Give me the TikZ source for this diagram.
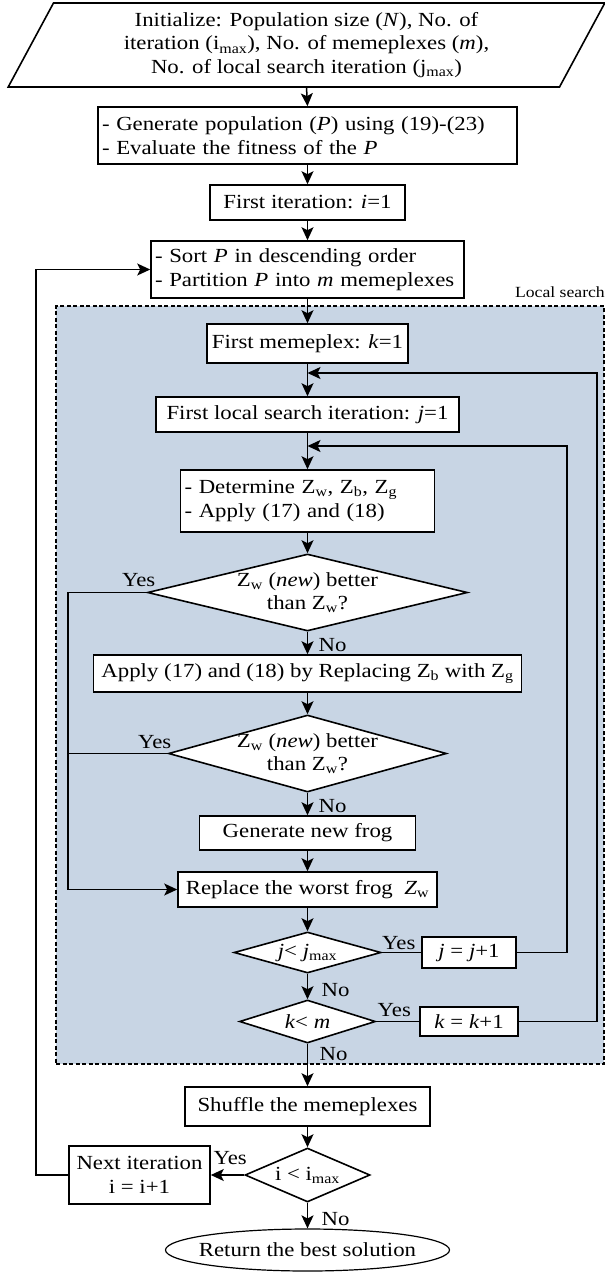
\documentclass[tikz,border=0pt]{standalone}
\usepackage{fontspec}
\setmainfont{Liberation Serif}[FakeStretch=1.14]
\usetikzlibrary{arrows.meta,shapes.geometric,calc}
\definecolor{cLocal}{HTML}{C8D5E4}

\begin{document}
\begin{tikzpicture}[
  x=1pt,y=1pt,font=\fontsize{20}{23.5}\selectfont,
  box/.style 2 args={rectangle,draw,line width=1.6pt,fill=white,align=center,
              inner sep=0pt,minimum width=#1,minimum height=#2},
  lbox/.style 2 args={rectangle,draw,line width=1.6pt,fill=white,align=left,
              inner xsep=4pt,inner ysep=0pt,text width=#1,minimum height=#2},
  dec/.style 2 args={diamond,draw,line width=1.6pt,fill=white,align=center,
              inner sep=-10pt,aspect=3,minimum width=#1,minimum height=#2},
  ar/.style={-{Stealth[length=13pt,width=12pt,inset=3pt]},line width=1.5pt},
  ln/.style={line width=1.5pt},
  yn/.style={inner sep=0pt}
]
\useasboundingbox (0,0) rectangle (605,-1272);

%======================= LOCAL SEARCH REGION =======================
\node[rectangle,draw,fill=cLocal,line width=2.5pt,dash pattern=on 4pt off 2.5pt,
      inner sep=0pt,minimum width=548pt,minimum height=758pt] (ls) at (330,-685) {};
\node[anchor=east,inner sep=0pt,font=\fontsize{15.5}{18}\selectfont] (lslbl) at (605,-292) {Local search};

%======================= INITIALISATION =======================
\node[trapezium,draw,line width=1.6pt,fill=white,trapezium left angle=63.4,
      trapezium right angle=116.6,trapezium stretches=true,minimum width=597pt,
      minimum height=84pt,inner sep=0pt,align=center] (init) at (306.5,-45)
  {Initialize: Population size (\textit{N}), No. of\\
   iteration (i\textsubscript{max}), No. of memeplexes (\textit{m}),\\
   No. of local search iteration (j\textsubscript{max})};
\node[lbox={411pt}{57pt}] (gen) at (307.5,-135.5)
  {- Generate population (\textit{P}) using (19)-(23)\\- Evaluate the fitness of the \textit{P}};
\node[box={195pt}{35pt}] (fit) at (307.5,-202.5) {First iteration: \textit{i}=1};
\node[lbox={305pt}{57pt}] (sort) at (307.5,-269.5)
  {- Sort \textit{P} in descending order\\- Partition \textit{P} into \textit{m} memeplexes};

%======================= LOCAL SEARCH =======================
\node[box={201pt}{39pt}] (mem) at (307.5,-343.5) {First memeplex: \textit{k}=1};
\node[box={303pt}{35pt}] (lsi) at (307.5,-414.5) {First local search iteration: \textit{j}=1};
\node[lbox={246pt}{62pt}] (det) at (307.5,-501)
  {- Determine Z\textsubscript{w}, Z\textsubscript{b}, Z\textsubscript{g}\\- Apply (17) and (18)};
\node[dec={320pt}{77pt}] (d1) at (307.5,-592.5)
  {Z\textsubscript{w} (\textit{new}) better\\than Z\textsubscript{w}?};
\node[box={428pt}{37pt}] (app) at (307.5,-673.5)
  {Apply (17) and (18) by Replacing Z\textsubscript{b} with Z\textsubscript{g}};
\node[dec={278pt}{77pt}] (d2) at (307.5,-753.5)
  {Z\textsubscript{w} (\textit{new}) better\\than Z\textsubscript{w}?};
\node[box={216pt}{34pt}] (gnf) at (307.5,-833) {Generate new frog};
\node[box={259pt}{35pt}] (rep) at (307.5,-889.5) {Replace the worst frog~~\textit{Z}\textsubscript{w}};
\node[dec={147pt}{41pt}] (d3) at (307.5,-952.5) {\textit{j}< \textit{j}\textsubscript{max}};
\node[box={94pt}{31pt}] (jinc) at (469,-952.5) {\textit{j} = \textit{j}+1};
\node[dec={136pt}{43pt}] (d4) at (307.5,-1021.5) {\textit{k}< \textit{m}};
\node[box={98pt}{29pt}] (kinc) at (469,-1021.5) {\textit{k} = \textit{k}+1};

%======================= OUTER LOOP =======================
\node[box={245pt}{39pt}] (shf) at (307.5,-1106.5) {Shuffle the memeplexes};
\node[dec={125pt}{54pt}] (d5) at (307.5,-1175) {i < i\textsubscript{max}};
\node[box={141pt}{58pt}] (nxt) at (139.5,-1175) {Next iteration\\i = i+1};
\node[ellipse,draw,line width=1.2pt,fill=white,inner sep=-12pt,
      minimum width=284pt,minimum height=42pt] (ret) at (307.5,-1250) {Return the best solution};

%======================= CONNECTORS =======================
\coordinate (yx) at (68,0);
\coordinate (jl) at (307.5,-446);
\coordinate (kl) at (307.5,-373);

\draw[ar] (init.south) -- (gen.north);
\draw[ar] (gen.south) -- (fit.north);
\draw[ar] (fit.south) -- (sort.north);
\draw[ar] (sort.south) -- (mem.north);
\draw[ar] (mem.south) -- (lsi.north);
\draw[ar] (lsi.south) -- (det.north);
\draw[ar] (det.south) -- (d1.north);
\draw[ar] (d1.south) -- (app.north);
\draw[ar] (app.south) -- (d2.north);
\draw[ar] (d2.south) -- (gnf.north);
\draw[ar] (gnf.south) -- (rep.north);
\draw[ar] (rep.south) -- (d3.north);
\draw[ar] (d3.south) -- (d4.north);
\draw[ar] (d4.south) -- (shf.north);
\draw[ar] (shf.south) -- (d5.north);
\draw[ar] (d5.south) -- (ret.north);

\draw[ar] (d1.west) -- (d1.west -| yx) |- (rep.west);
\draw[ln] (d2.west) -- (d2.west -| yx);
\draw[ln] (d3.east) -- (jinc.west);
\draw[ar] (jinc.east) -- ++(50,0) |- (jl);
\draw[ln] (d4.east) -- (kinc.west);
\draw[ar] (kinc.east) -- ++(78,0) |- (kl);
\draw[ar] (d5.west) -- (nxt.east);
\draw[ar] (nxt.west) -- ++(-32,0) |- (sort.west);

%======================= YES / NO =======================
\node[yn] (y1) at ($(d1.west)+(-8,12)$) {Yes};
\node[yn] (n1) at ($(d1.south)+(25,-13)$) {No};
\node[yn] (y2) at ($(d2.west)+(-13,11)$) {Yes};
\node[yn] (n2) at ($(d2.south)+(25,-13)$) {No};
\node[yn] (y3) at ($(d3.east)+(17,9)$) {Yes};
\node[yn] (n3) at ($(d3.south)+(28,-16)$) {No};
\node[yn] (y4) at ($(d4.east)+(18,11)$) {Yes};
\node[yn] (n4) at ($(d4.south)+(26,-10)$) {No};
\node[yn] (y5) at ($(d5.west)+(-14,17)$) {Yes};
\node[yn] (n5) at ($(d5.south)+(28,-16)$) {No};

\end{tikzpicture}
\end{document}
